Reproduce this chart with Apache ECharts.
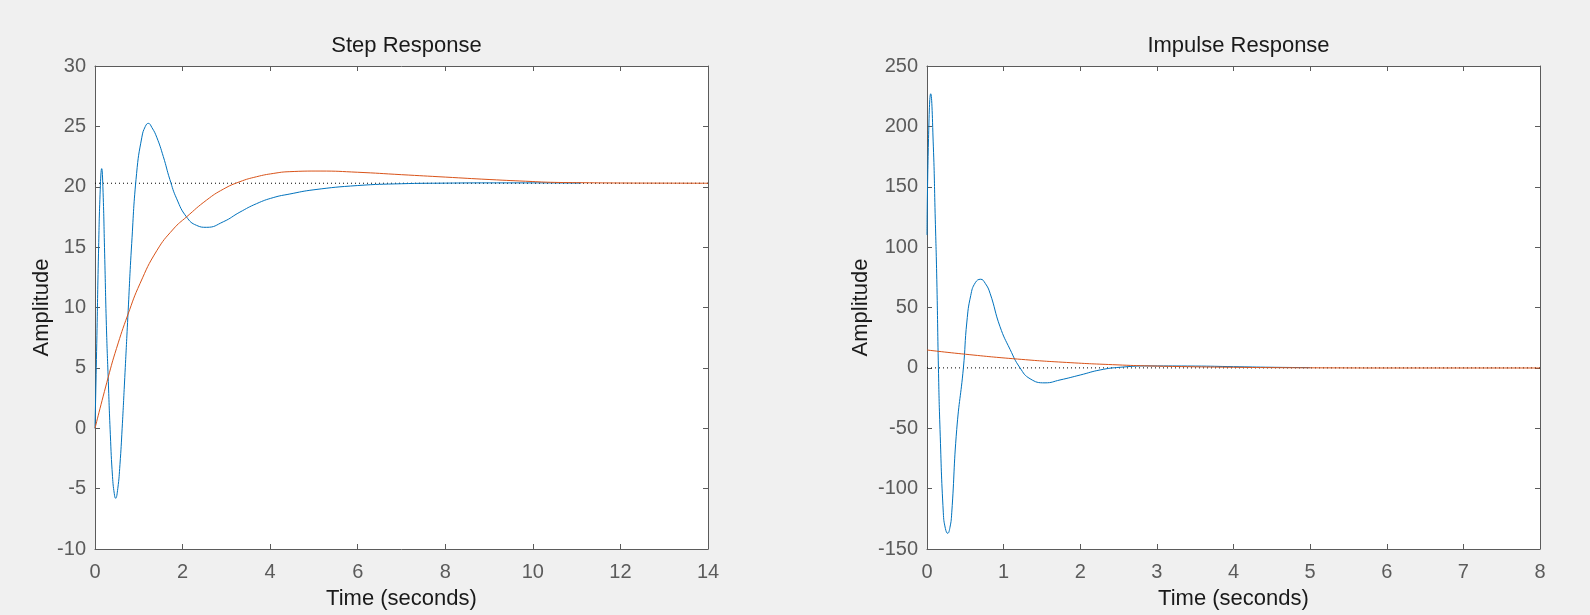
<!DOCTYPE html>
<html>
<head>
<meta charset="utf-8">
<script src="https://cdn.jsdelivr.net/npm/echarts@6/dist/echarts.min.js"></script>
<style>
html,body{margin:0;padding:0;background:#f0f0f0;}
#c{width:1590px;height:615px;}
</style>
</head>
<body>
<div id="c"></div>
<script>
// ---- data ----
const stepTitle = 'Step Response';
const impulseTitle = 'Impulse Response';
const xLabel = 'Time (seconds)';
const yLabel = 'Amplitude';

const stepXTicks = [0, 14, 2];      // min, max, interval
const stepYTicks = [-10, 30, 5];
const impXTicks = [0, 8, 1];
const impYTicks = [-150, 250, 50];

const stepFinal = 20.29;   // steady-state (dotted)
const impulseFinal = 0;

// blue system, step response [t, amplitude]
const stepBlue = [
  [0,0],[0.04,7],[0.08,14.5],[0.12,19.8],[0.153,21.5],[0.18,20],[0.22,14.5],[0.26,8.5],
  [0.30,4.3],[0.35,-0.5],[0.40,-4],[0.44,-5.4],[0.47,-5.8],[0.52,-5.0],[0.57,-3.0],[0.62,0],
  [0.68,4.2],[0.75,9.2],[0.838,15.3],[0.95,21.1],[1.07,24.1],[1.15,25],[1.218,25.25],
  [1.3,24.9],[1.41,24.1],[1.56,22.5],[1.71,20.6],[1.866,19.0],[2.09,17.5],[2.32,16.8],
  [2.55,16.64],[2.93,17.1],[3.31,17.9],[3.69,18.6],[4.07,19.1],[4.45,19.4],[5,19.75],
  [6,20.1],[7,20.25],[8,20.3],[9,20.32],[10,20.32],[11.1,20.3]
];
// orange system, step response
const stepOrange = [
  [0,0],[0.3,4.2],[0.49,6.6],[0.75,9.4],[1.03,12.0],[1.41,14.7],[1.79,16.5],[2.09,17.5],
  [2.55,18.9],[2.93,19.8],[3.31,20.42],[3.69,20.83],[4.07,21.1],[4.45,21.25],[5.14,21.3],
  [6,21.2],[7,21.0],[8,20.8],[9,20.6],[10,20.43],[10.4,20.37],[11,20.34],[12,20.31],
  [13,20.3],[14,20.29]
];
// blue system, impulse response
const impulseBlue = [
  [0,110],[0.02,190],[0.048,227],[0.083,183],[0.106,128],[0.128,73],[0.149,0],[0.17,-51],
  [0.213,-120],[0.24,-133],[0.27,-137],[0.30,-132],[0.323,-120],[0.388,-51],[0.475,0],
  [0.52,38],[0.571,60],[0.63,70.5],[0.70,73.4],[0.76,70],[0.823,61.8],[0.953,34.1],
  [1.084,15.3],[1.214,0],[1.345,-9],[1.54,-12.4],[1.736,-10],[2.0,-5.9],[2.26,-1.7],
  [2.52,0.5],[2.91,1.6],[3.5,1.5],[4,1.0],[4.5,0.5],[5,0.2]
];
// orange system, impulse response
const impulseOrange = [
  [0,14.8],[0.5,11.3],[1.18,7.3],[1.82,4.5],[2.48,2.5],[2.91,1.6],[3.5,0.9],[4,0.5],
  [4.5,0.2],[5.3,0],[6,-0.1],[7,-0.1],[8,-0.1]
];

// ---- styling ----
const FONT = '"Liberation Sans", Arial, sans-serif';
const AX = '#5b5b5b';
const BLUE = '#0072BD';
const ORANGE = '#D95319';

function xAxisPair(ticks, gridIndex) {
  const base = {
    type: 'value', gridIndex, min: ticks[0], max: ticks[1], interval: ticks[2],
    splitLine: {show: false},
    axisLine: {show: true, onZero: false, lineStyle: {color: AX, width: 1}},
    axisTick: {show: true, inside: true, length: 5, lineStyle: {color: AX}}
  };
  return [
    Object.assign({}, base, {
      position: 'bottom',
      axisLabel: {color: AX, fontSize: 20, fontFamily: FONT, margin: 13},
      name: xLabel, nameLocation: 'middle', nameGap: 39,
      nameTextStyle: {color: '#1a1a1a', fontSize: 22, fontFamily: FONT}
    }),
    Object.assign({}, base, {position: 'top', axisLabel: {show: false}})
  ];
}
function yAxisPair(ticks, gridIndex, gap) {
  const base = {
    type: 'value', gridIndex, min: ticks[0], max: ticks[1], interval: ticks[2],
    splitLine: {show: false},
    axisLine: {show: true, onZero: false, lineStyle: {color: AX, width: 1}},
    axisTick: {show: true, inside: true, length: 5, lineStyle: {color: AX}}
  };
  return [
    Object.assign({}, base, {
      position: 'left',
      axisLabel: {color: AX, fontSize: 20, fontFamily: FONT, margin: 9},
      name: yLabel, nameLocation: 'middle', nameGap: gap,
      nameTextStyle: {color: '#1a1a1a', fontSize: 22, fontFamily: FONT}
    }),
    Object.assign({}, base, {position: 'right', axisLabel: {show: false}})
  ];
}
function lineSeries(data, color, xi, yi) {
  return {
    type: 'line', data, xAxisIndex: xi, yAxisIndex: yi,
    showSymbol: false, symbol: 'none', smooth: 0.5,
    lineStyle: {color, width: 1}, animation: false, silent: true, z: 3
  };
}
function refLine(value, ticks, xi, yi) {
  return {
    type: 'line', data: [[ticks[0], value], [ticks[1], value]], xAxisIndex: xi, yAxisIndex: yi,
    showSymbol: false, symbol: 'none',
    lineStyle: {color: '#000', width: 1, type: [1, 3]}, animation: false, silent: true, z: 2
  };
}

const chart = echarts.init(document.getElementById('c'), null, {renderer: 'canvas'});
chart.setOption({
  backgroundColor: '#f0f0f0',
  animation: false,
  title: [
    {text: stepTitle, left: 401.5, top: 30, textAlign: 'center',
     textStyle: {color: '#1a1a1a', fontSize: 22, fontWeight: 'normal', fontFamily: FONT}},
    {text: impulseTitle, left: 1233.5, top: 30, textAlign: 'center',
     textStyle: {color: '#1a1a1a', fontSize: 22, fontWeight: 'normal', fontFamily: FONT}}
  ],
  grid: [
    {left: 95, top: 66, width: 613, height: 483, show: true, backgroundColor: '#fff', borderWidth: 0},
    {left: 927, top: 66, width: 613, height: 483, show: true, backgroundColor: '#fff', borderWidth: 0}
  ],
  xAxis: [...xAxisPair(stepXTicks, 0), ...xAxisPair(impXTicks, 1)],
  yAxis: [...yAxisPair(stepYTicks, 0, 42), ...yAxisPair(impYTicks, 1, 55)],
  series: [
    refLine(stepFinal, stepXTicks, 0, 0),
    lineSeries(stepBlue, BLUE, 0, 0),
    lineSeries(stepOrange, ORANGE, 0, 0),
    refLine(impulseFinal, impXTicks, 2, 2),
    lineSeries(impulseBlue, BLUE, 2, 2),
    lineSeries(impulseOrange, ORANGE, 2, 2)
  ]
});
</script>
</body>
</html>
